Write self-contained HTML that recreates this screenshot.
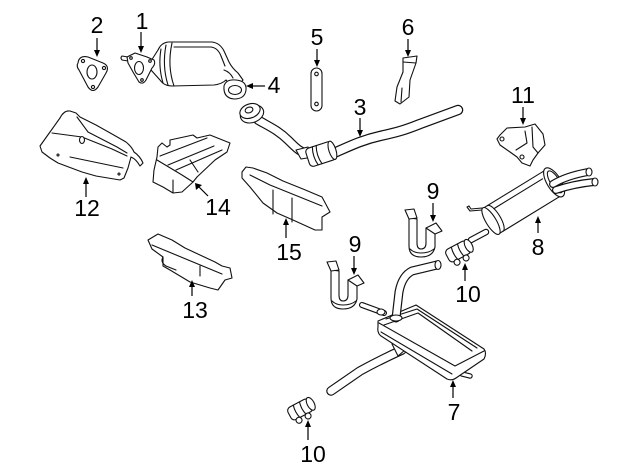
<!DOCTYPE html>
<html><head><meta charset="utf-8"><style>
html,body{margin:0;padding:0;background:#fff;}
svg{display:block;}
text{font-family:"Liberation Sans",Arial,sans-serif;font-size:23px;fill:#000;text-anchor:middle;}
</style></head><body>
<svg width="640" height="471" viewBox="0 0 640 471" xmlns="http://www.w3.org/2000/svg">
<g fill="#fff" stroke="#111" stroke-width="1.1" stroke-linejoin="round" stroke-linecap="round">

<!-- Part 2 gasket -->
<path d="M78,63 Q79,55 88,57 L103,63 Q110,66 106,73 L98,87 Q93,94 88,87 L79,70 Q76,66 78,63 Z"/>
<ellipse cx="92" cy="72" rx="5" ry="7"/>
<circle cx="83" cy="61" r="1.6"/><circle cx="104" cy="68" r="1.6"/><circle cx="93" cy="87" r="1.6"/>

<!-- Part 1 cat converter -->
<path d="M151,61 L158,50 Q161,43 168,42 L212,42 Q220,43 224,51 L229,62 Q232,68 238,73 L243,80 L236,89 Q230,85 226,80 Q222,84 214,85 L172,86 Q164,86 160,80 L151,70 Z"/>
<path d="M161,49 Q158,66 163,83" fill="none"/>
<path d="M166,45 Q162,66 168,85" fill="none"/>
<path d="M172,43 Q167,66 174,86" fill="none"/>
<path d="M174,47 L211,47 Q218,48 221,56 L225,66" fill="none"/>
<path d="M224,70 Q230,72 233,78" fill="none"/>
<path d="M128,57 L122,56 Q120,58 122,60 L128,61"/>
<path d="M127,57 L135,53 L147,57 L154,60 Q156,64 152,68 L146,80 Q143,85 139,82 L133,72 L128,63 Z"/>
<ellipse cx="139" cy="68" rx="4.5" ry="6.5"/>
<circle cx="131" cy="58" r="1.3"/><circle cx="150" cy="61" r="1.3"/><circle cx="142" cy="80" r="1.3"/>
<!-- Part 4 gasket -->
<path d="M224,86 Q226,79 236,80 Q247,81 246,90 Q245,99 234,99 Q223,98 224,86 Z"/>
<ellipse cx="235" cy="90" rx="6.5" ry="4.5"/>

<!-- Part 3 pipe -->
<path d="M258,120 C268,126 278,130 288,140 S300,152 310,154" fill="none" stroke-width="9.5"/>
<path d="M258,120 C268,126 278,130 288,140 S300,152 310,154" fill="none" stroke="#fff" stroke-width="7.2"/>
<path d="M334,153 C350,146 362,140 380,136 S405,130 420,124 L458,110" fill="none" stroke-width="10.5"/>
<path d="M334,153 C350,146 362,140 380,136 S405,130 420,124 L458,110" fill="none" stroke="#fff" stroke-width="8"/>
<path d="M296,150 L308,147 L313,157 L301,159 Z"/>
<g transform="translate(321,154) rotate(-18)">
<rect x="-14" y="-9.5" width="28" height="19" rx="4"/>
<path d="M-6,-9.5 Q-9,0 -6,9.5" fill="none"/>
<path d="M-2,-9.5 Q-5,0 -2,9.5" fill="none"/>
<ellipse cx="12" cy="0" rx="3.5" ry="9.5"/>
</g>
<ellipse cx="252" cy="114" rx="12" ry="8.5" transform="rotate(-20 252 114)"/>
<ellipse cx="250" cy="111" rx="10.5" ry="7" transform="rotate(-20 250 111)"/>
<ellipse cx="249" cy="110" rx="4" ry="2.8" transform="rotate(-20 249 110)"/>

<!-- Part 5 strap -->
<rect x="311" y="68" width="11" height="43" rx="5.5"/>
<circle cx="316.5" cy="74" r="1.8"/><circle cx="316.5" cy="104" r="1.8"/>

<!-- Part 6 bracket -->
<path d="M403,58 L417,56 L416,63 L410,80 L409,97 L400,104 L395,101 L397,87 L403,72 Z"/>
<path d="M403,62 L416,63" fill="none"/>
<path d="M402,88 L401,102" fill="none"/>

<!-- Part 11 bracket -->
<path d="M500,135 L507,128 L525,127 L535,124 L543,134 L545,145 L538,153 L533,160 L530,166 L522,163 L517,157 L510,152 L500,145 L497,139 Z"/>
<circle cx="502" cy="139" r="2"/><circle cx="522" cy="157" r="2"/>
<path d="M532,127 L533,147 L538,153" fill="none"/>
<path d="M525,131 L527,143 L516,150" fill="none"/>

<!-- Part 12 heat shield -->
<path d="M40,146 L50,132 L60,118 Q64,110 70,111 L76,113 L80,117 L96,125 L112,134 L126,142 Q132,147 134,152 Q140,156 143,163 L140,166 Q136,159 131,157 L128,168 L124,178 L120,180 L96,176 L82,172 L58,163 L50,158 L42,152 Z"/>
<path d="M52,133 L82,137 L112,149 L127,156" fill="none"/>
<path d="M77,117 L88,132 L117,147 L127,153" fill="none"/>
<path d="M70,157 L123,168" fill="none"/>
<ellipse cx="82" cy="140" rx="2.5" ry="3.5"/>
<circle cx="58" cy="155" r="1"/><circle cx="119" cy="174" r="1"/>

<!-- Part 14 -->
<path d="M158,147 L162,143 L167,147 L170,145 L170,140 L193,135 L197,138 L210,135 L230,143 L227,152 L215,160 L197,177 L193,182 L182,192 L173,193 L163,187 L153,182 L154,170 L157,157 Z"/>
<path d="M157,160 L182,175 L193,182" fill="none"/>
<path d="M160,156 L207,138" fill="none"/>
<path d="M168,165 L214,146" fill="none"/>
<path d="M176,170 L222,150" fill="none"/>
<path d="M173,180 L173,193" fill="none"/>
<path d="M190,160 L198,172" fill="none"/>

<!-- Part 15 -->
<path d="M242,172 L246,167 L253,168 L267,173 L283,181 L303,189 L322,197 L330,212 L322,217 L322,230 L315,230 L293,220 L277,213 L263,203 L250,187 L242,178 Z"/>
<path d="M250,175 L270,185 L322,206" fill="none"/>
<path d="M273,190 L273,214" fill="none"/>
<path d="M292,198 L292,222" fill="none"/>

<!-- Part 13 -->
<path d="M148,240 L158,234 L172,240 L185,248 L200,255 L215,262 L222,266 L230,268 L232,278 L225,280 L218,290 L210,288 L190,282 L170,270 L163,266 L163,257 L152,249 Z"/>
<path d="M152,245 L222,274" fill="none"/>
<path d="M163,257 Q160,262 166,266 L176,270" fill="none"/>
<path d="M200,266 L200,276" fill="none"/>

<!-- Part 8 muffler -->
<path d="M486,232 L471,240" stroke-width="6.5" fill="none"/>
<path d="M486,232 L471,240" stroke="#fff" stroke-width="4.2" fill="none"/>
<path d="M482,210 L470,211 L467,207 L469,206 L471,209 L482,208 Z"/>
<g transform="translate(491,221) rotate(-31.5)">
<path d="M0,-15 L74,-15 L74,15 L0,15 Z"/>
<ellipse cx="0" cy="0" rx="5" ry="15.5"/>
<path d="M5,-15 A5,15 0 0 1 5,15" fill="none"/>
<path d="M9,-9 L66,-9" fill="none"/>
<ellipse cx="74" cy="0" rx="7" ry="16.5"/>
<ellipse cx="75" cy="0" rx="4.5" ry="12.5"/>
</g>
<path d="M553,184 Q566,176 588,172" fill="none" stroke-width="8"/>
<path d="M553,184 Q566,176 588,172" fill="none" stroke="#fff" stroke-width="5.6"/>
<ellipse cx="589" cy="172" rx="3" ry="4"/>
<path d="M556,190 Q574,184 594,182" fill="none" stroke-width="8"/>
<path d="M556,190 Q574,184 594,182" fill="none" stroke="#fff" stroke-width="5.6"/>
<ellipse cx="595" cy="182" rx="3" ry="4"/>

<!-- Part 9 clips -->
<g id="clip9">
<path d="M409,218 L409,246 Q409,257 421,257 Q433,257 435,247 L435,232 L426,228 L426,243 Q426,249 421,249 Q417,249 417,243 L417,219 Z"/>
<path d="M410,249 Q414,253 421,253 Q429,253 434,249" fill="none"/>
<path d="M405,210 L414,209 L417,218 L409,219 Z"/>
<path d="M426,228 L436,223 L442,231 L435,234 Z"/>
</g>
<g transform="translate(-78,52)">
<path d="M409,218 L409,246 Q409,257 421,257 Q433,257 435,247 L435,232 L426,228 L426,243 Q426,249 421,249 Q417,249 417,243 L417,219 Z"/>
<path d="M410,249 Q414,253 421,253 Q429,253 434,249" fill="none"/>
<path d="M405,210 L414,209 L417,218 L409,219 Z"/>
<path d="M426,228 L436,223 L442,231 L435,234 Z"/>
</g>

<!-- Part 10 clamps -->
<g transform="translate(459,251) rotate(-28)">
<rect x="-13" y="-7" width="24" height="14" rx="4"/>
<path d="M-5,-7 Q-7,0 -5,7 M2,-7 Q0,0 2,7" fill="none"/>
<ellipse cx="11" cy="0" rx="3.5" ry="7"/>
<circle cx="-7" cy="9" r="3"/><circle cx="3" cy="9.5" r="3"/>
</g>
<g transform="translate(301,409) rotate(-28)">
<rect x="-13" y="-7" width="24" height="14" rx="4"/>
<path d="M-5,-7 Q-7,0 -5,7 M2,-7 Q0,0 2,7" fill="none"/>
<ellipse cx="11" cy="0" rx="3.5" ry="7"/>
<circle cx="-7" cy="9" r="3"/><circle cx="3" cy="9.5" r="3"/>
</g>

<!-- Part 7 muffler -->
<path d="M402,350 Q380,360 360,371 L331,391" fill="none" stroke-width="9.5"/>
<path d="M402,350 Q380,360 360,371 L331,391" fill="none" stroke="#fff" stroke-width="7.2"/>
<path d="M392,344 L398,340 L405,350 L398,356 Z"/>
<path d="M462,374 L470,376" fill="none" stroke-width="5.5"/>
<path d="M462,374 L470,376" fill="none" stroke="#fff" stroke-width="3.2"/>
<path d="M362,305 L384,313" fill="none" stroke-width="6"/>
<path d="M362,305 L384,313" fill="none" stroke="#fff" stroke-width="3.8"/>
<path d="M378,321 L416,305 L484,349 Q487,353 484,359 L456,378 Q452,381 447,379 L381,336 Q377,333 378,327 Z"/>
<path d="M379,323 L455,366 L484,351" fill="none"/>
<path d="M386,319 L417,309 L477,348" fill="none"/>
<path d="M384,325 L418,313 L472,351" fill="none"/>
<path d="M381,332 L452,374" fill="none"/>
<ellipse cx="381" cy="312" rx="4" ry="3"/>
<path d="M396,318 L399,292 Q402,276 412,271 L437,265" fill="none" stroke-width="9"/>
<path d="M396,318 L399,292 Q402,276 412,271 L437,265" fill="none" stroke="#fff" stroke-width="6.6"/>
<ellipse cx="438" cy="265" rx="3" ry="4.5"/>
<ellipse cx="396" cy="318" rx="6" ry="3"/>
</g>

<!-- arrows -->
<g stroke="#000" stroke-width="1.2" fill="none">
<path d="M141,32 L141,47"/>
<path d="M97,38 L97,51"/>
<path d="M265,86 L252,86"/>
<path d="M317,49 L317,61"/>
<path d="M408,39 L408,51"/>
<path d="M360,118 L360,131"/>
<path d="M523,107 L523,119"/>
<path d="M538,233 L538,222"/>
<path d="M433,203 L433,216"/>
<path d="M465,281 L465,269"/>
<path d="M354,256 L354,269"/>
<path d="M453,398 L453,386"/>
<path d="M308,440 L308,426"/>
<path d="M86,197 L86,183"/>
<path d="M208,196 L199,187"/>
<path d="M286,238 L286,224"/>
<path d="M192,296 L192,286"/>
</g>
<g fill="#000">
<polygon points="138,46 144,46 141,53"/>
<polygon points="94,50 100,50 97,57"/>
<polygon points="253,83 253,89 246,86"/>
<polygon points="314,60 320,60 317,67"/>
<polygon points="405,50 411,50 408,57"/>
<polygon points="357,130 363,130 360,137"/>
<polygon points="520,118 526,118 523,125"/>
<polygon points="535,223 541,223 538,216"/>
<polygon points="430,215 436,215 433,222"/>
<polygon points="462,270 468,270 465,263"/>
<polygon points="351,268 357,268 354,275"/>
<polygon points="450,387 456,387 453,380"/>
<polygon points="305,427 311,427 308,420"/>
<polygon points="83,184 89,184 86,177"/>
<polygon points="196,190 202,185 195,183"/>
<polygon points="283,225 289,225 286,218"/>
<polygon points="189,287 195,287 192,280"/>
</g>

<!-- labels -->
<text x="142" y="29">1</text>
<text x="97" y="33">2</text>
<text x="274" y="93">4</text>
<text x="317" y="45">5</text>
<text x="408" y="35">6</text>
<text x="360" y="115">3</text>
<text x="523" y="103">11</text>
<text x="87" y="216">12</text>
<text x="218" y="215">14</text>
<text x="289" y="260">15</text>
<text x="195" y="318">13</text>
<text x="433" y="199">9</text>
<text x="355" y="252">9</text>
<text x="538" y="255">8</text>
<text x="468" y="302">10</text>
<text x="313" y="462">10</text>
<text x="454" y="420">7</text>
</svg>
</body></html>
